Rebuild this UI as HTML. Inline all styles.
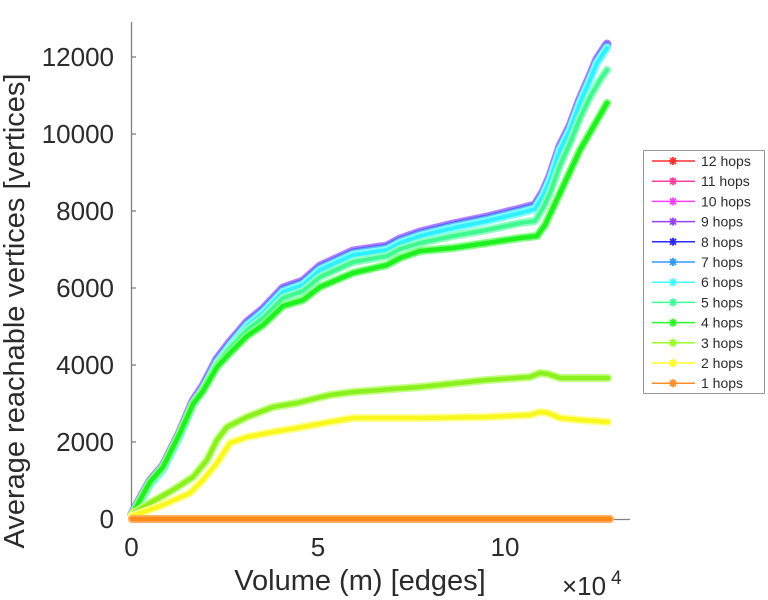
<!DOCTYPE html>
<html>
<head>
<meta charset="utf-8">
<style>
html,body{margin:0;padding:0;background:#fff;}
svg{display:block;}
text{font-family:"Liberation Sans",Arial,sans-serif;fill:#2b2b2b;}
</style>
</head>
<body>
<svg width="768" height="600" viewBox="0 0 768 600" xmlns="http://www.w3.org/2000/svg">
<rect width="768" height="600" fill="#fff"/>

<!-- axes -->
<g stroke="#808080" stroke-width="1.3" fill="none">
  <line x1="131.5" y1="22" x2="131.5" y2="519.5"/>
  <line x1="131.5" y1="519.5" x2="630" y2="519.5"/>
  <line x1="131.5" y1="442" x2="136" y2="442"/>
  <line x1="131.5" y1="365" x2="136" y2="365"/>
  <line x1="131.5" y1="288" x2="136" y2="288"/>
  <line x1="131.5" y1="211" x2="136" y2="211"/>
  <line x1="131.5" y1="134" x2="136" y2="134"/>
  <line x1="131.5" y1="57" x2="136" y2="57"/>
  <line x1="318" y1="519.5" x2="318" y2="515"/>
  <line x1="505" y1="519.5" x2="505" y2="515"/>
</g>

<g font-size="26" text-anchor="end">
  <text x="114" y="528">0</text>
  <text x="114" y="451">2000</text>
  <text x="114" y="374">4000</text>
  <text x="114" y="297">6000</text>
  <text x="114" y="220">8000</text>
  <text x="114" y="143">10000</text>
  <text x="114" y="66">12000</text>
</g>
<g font-size="26" text-anchor="middle">
  <text x="131.5" y="556">0</text>
  <text x="318" y="556">5</text>
  <text x="505" y="556">10</text>
</g>
<text x="562" y="595" font-size="26">×10</text>
<text x="611" y="584" font-size="19">4</text>

<text x="360" y="590" font-size="29" text-anchor="middle">Volume (m) [edges]</text>
<text transform="translate(24,311) rotate(-90)" font-size="29" text-anchor="middle">Average reachable vertices [vertices]</text>

<!-- series: halo + core -->
<g fill="none" stroke-linejoin="round" stroke-linecap="round">
  <!-- 12,11,10 -->
  <polyline stroke="#ff3030" stroke-width="7" points="132,515 140,500 150,482 163,467 180,433 193,402 203,387 217,360 230,343 247,323 263,310 283,289 303,282 320,267 353,252 387,247 400,240 420,233 453,225 487,218 520,210 535,206 543,193 550,177 560,147 570,127 580,100 590,77 597,60 607,45"/>
  <polyline stroke="#ff40a0" stroke-width="7" points="132,515 140,500 150,482 163,467 180,433 193,402 203,387 217,360 230,343 247,323 263,310 283,289 303,282 320,267 353,252 387,247 400,240 420,233 453,225 487,218 520,210 535,206 543,193 550,177 560,147 570,127 580,100 590,77 597,60 607,45"/>
  <polyline stroke="#ff40ff" stroke-width="7" points="132,515 140,500 150,482 163,467 180,433 193,402 203,387 217,360 230,343 247,323 263,310 283,289 303,282 320,267 353,252 387,247 400,240 420,233 453,225 487,218 520,210 535,206 543,193 550,177 560,147 570,127 580,100 590,77 597,60 607,45"/>
  <!-- 9 -->
  <g transform="translate(0,-1)">
  <polyline stroke="#b080ff" stroke-width="9" points="132,515 140,500 150,482 163,467 180,433 193,402 203,387 217,360 230,343 247,323 263,310 283,289 303,282 320,267 353,252 387,247 400,240 420,233 453,225 487,218 520,210 535,206 543,193 550,177 560,147 570,127 580,100 590,77 597,60 607,45"/>
  <polyline stroke="#9040ff" stroke-width="5" points="132,515 140,500 150,482 163,467 180,433 193,402 203,387 217,360 230,343 247,323 263,310 283,289 303,282 320,267 353,252 387,247 400,240 420,233 453,225 487,218 520,210 535,206 543,193 550,177 560,147 570,127 580,100 590,77 597,60 607,45"/>
  </g>
  <!-- 8 -->
  <polyline stroke="#5a5aff" stroke-width="7" points="132,515 140,500 150,482 163,467 180,433 193,402 203,387 217,360 230,343 247,323 263,310 283,289 303,282 320,267 353,252 387,247 400,240 420,233 453,225 487,218 520,210 535,206 543,193 550,177 560,147 570,127 580,100 590,77 597,60 607,45"/>
  <!-- 7 -->
  <g transform="translate(0,1.5)">
  <polyline stroke="#60b0ff" stroke-width="8" points="132,515 140,500 150,482 163,467 180,433 193,402 203,387 217,360 230,343 247,323 263,310 283,289 303,282 320,267 353,252 387,247 400,240 420,233 453,225 487,218 520,210 535,206 543,193 550,177 560,147 570,127 580,100 590,77 597,60 607,45"/>
  </g>
  <!-- 6 -->
  <g transform="translate(0,3)">
  <polyline stroke="#80ffff" stroke-width="8" points="132,515 140,500 150,482 163,467 180,433 193,402 203,387 217,360 230,343 247,323 263,310 283,289 303,282 320,267 353,252 387,247 400,240 420,233 453,225 487,218 520,210 535,206 543,193 550,177 560,147 570,127 580,100 590,77 597,60 607,45"/>
  <polyline stroke="#30f0ff" stroke-width="4" points="132,515 140,500 150,482 163,467 180,433 193,402 203,387 217,360 230,343 247,323 263,310 283,289 303,282 320,267 353,252 387,247 400,240 420,233 453,225 487,218 520,210 535,206 543,193 550,177 560,147 570,127 580,100 590,77 597,60 607,45"/>
  </g>
  <!-- 5 -->
  <polyline stroke="#90ffc0" stroke-width="8" points="132,515 140,500 150,482 163,467 180,433 193,403 203,389 217,364 230,348 247,330 263,318 283,298 303,291 320,277 353,262 387,256 400,249 420,243 453,236 487,230 520,223 535,221 543,208 550,193 560,165 570,143 580,118 590,97 600,80 607,70"/>
  <polyline stroke="#40f890" stroke-width="4" points="132,515 140,500 150,482 163,467 180,433 193,403 203,389 217,364 230,348 247,330 263,318 283,298 303,291 320,277 353,262 387,256 400,249 420,243 453,236 487,230 520,223 535,221 543,208 550,193 560,165 570,143 580,118 590,97 600,80 607,70"/>
  <!-- 4 -->
  <polyline stroke="#80ff80" stroke-width="8" points="132,515 140,500 150,482 163,467 180,433 193,404 203,391 217,367 230,353 247,336 263,325 283,306 303,300 320,287 353,273 387,265 400,258 420,251 453,248 487,243 520,238 537,236 545,225 560,193 580,150 607,103"/>
  <polyline stroke="#20f020" stroke-width="4.5" points="132,515 140,500 150,482 163,467 180,433 193,404 203,391 217,367 230,353 247,336 263,325 283,306 303,300 320,287 353,273 387,265 400,258 420,251 453,248 487,243 520,238 537,236 545,225 560,193 580,150 607,103"/>
  <!-- 3 -->
  <polyline stroke="#c0ff80" stroke-width="8" points="132,514 150,503 173,490 193,477 207,460 217,440 227,427 247,417 273,407 297,403 317,398 330,395 353,392 420,387 487,380 530,377 540,373 548,374 560,378 580,378 608,378"/>
  <polyline stroke="#8cf020" stroke-width="4.5" points="132,514 150,503 173,490 193,477 207,460 217,440 227,427 247,417 273,407 297,403 317,398 330,395 353,392 420,387 487,380 530,377 540,373 548,374 560,378 580,378 608,378"/>
  <!-- 2 -->
  <polyline stroke="#ffff90" stroke-width="8" points="132,516 163,505 190,493 203,480 217,463 230,443 247,437 273,432 297,428 330,422 353,418 420,418 487,417 530,415 540,412 548,413 560,418 580,420 608,422"/>
  <polyline stroke="#f8f820" stroke-width="4.5" points="132,516 163,505 190,493 203,480 217,463 230,443 247,437 273,432 297,428 330,422 353,418 420,418 487,417 530,415 540,412 548,413 560,418 580,420 608,422"/>
  <!-- 1 -->
  <polyline stroke="#ffb060" stroke-width="8" points="132,519 610,519"/>
  <polyline stroke="#ff8a1a" stroke-width="4.5" points="132,519 610,519"/>
</g>

<!-- legend -->
<rect x="643.5" y="150.5" width="121" height="243" fill="#fff" stroke="#999" stroke-width="1"/>
<g font-size="14">
  <g transform="translate(0,161)"><line x1="652" x2="695" y1="0" y2="0" stroke="#ff3030" stroke-width="1.5"/><path d="M669,0H677M673,-4V4M670,-3L676,3M670,3L676,-3" stroke="#ff3030" stroke-width="1.8"/><text x="701" y="5">12 hops</text></g>
  <g transform="translate(0,181.2)"><line x1="652" x2="695" y1="0" y2="0" stroke="#ff40a0" stroke-width="1.5"/><path d="M669,0H677M673,-4V4M670,-3L676,3M670,3L676,-3" stroke="#ff40a0" stroke-width="1.8"/><text x="701" y="5">11 hops</text></g>
  <g transform="translate(0,201.4)"><line x1="652" x2="695" y1="0" y2="0" stroke="#ff40ff" stroke-width="1.5"/><path d="M669,0H677M673,-4V4M670,-3L676,3M670,3L676,-3" stroke="#ff40ff" stroke-width="1.8"/><text x="701" y="5">10 hops</text></g>
  <g transform="translate(0,221.6)"><line x1="652" x2="695" y1="0" y2="0" stroke="#9940ff" stroke-width="1.5"/><path d="M669,0H677M673,-4V4M670,-3L676,3M670,3L676,-3" stroke="#9940ff" stroke-width="1.8"/><text x="701" y="5">9 hops</text></g>
  <g transform="translate(0,241.8)"><line x1="652" x2="695" y1="0" y2="0" stroke="#2a2aff" stroke-width="1.5"/><path d="M669,0H677M673,-4V4M670,-3L676,3M670,3L676,-3" stroke="#2a2aff" stroke-width="1.8"/><text x="701" y="5">8 hops</text></g>
  <g transform="translate(0,262)"><line x1="652" x2="695" y1="0" y2="0" stroke="#3399ff" stroke-width="1.5"/><path d="M669,0H677M673,-4V4M670,-3L676,3M670,3L676,-3" stroke="#3399ff" stroke-width="1.8"/><text x="701" y="5">7 hops</text></g>
  <g transform="translate(0,282.2)"><line x1="652" x2="695" y1="0" y2="0" stroke="#40ffff" stroke-width="1.5"/><path d="M669,0H677M673,-4V4M670,-3L676,3M670,3L676,-3" stroke="#40ffff" stroke-width="1.8"/><text x="701" y="5">6 hops</text></g>
  <g transform="translate(0,302.4)"><line x1="652" x2="695" y1="0" y2="0" stroke="#40ff99" stroke-width="1.5"/><path d="M669,0H677M673,-4V4M670,-3L676,3M670,3L676,-3" stroke="#40ff99" stroke-width="1.8"/><text x="701" y="5">5 hops</text></g>
  <g transform="translate(0,322.6)"><line x1="652" x2="695" y1="0" y2="0" stroke="#26ff26" stroke-width="1.5"/><path d="M669,0H677M673,-4V4M670,-3L676,3M670,3L676,-3" stroke="#26ff26" stroke-width="1.8"/><text x="701" y="5">4 hops</text></g>
  <g transform="translate(0,342.8)"><line x1="652" x2="695" y1="0" y2="0" stroke="#99ff26" stroke-width="1.5"/><path d="M669,0H677M673,-4V4M670,-3L676,3M670,3L676,-3" stroke="#99ff26" stroke-width="1.8"/><text x="701" y="5">3 hops</text></g>
  <g transform="translate(0,363)"><line x1="652" x2="695" y1="0" y2="0" stroke="#ffff26" stroke-width="1.5"/><path d="M669,0H677M673,-4V4M670,-3L676,3M670,3L676,-3" stroke="#ffff26" stroke-width="1.8"/><text x="701" y="5">2 hops</text></g>
  <g transform="translate(0,383.2)"><line x1="652" x2="695" y1="0" y2="0" stroke="#ff8c26" stroke-width="1.5"/><path d="M669,0H677M673,-4V4M670,-3L676,3M670,3L676,-3" stroke="#ff8c26" stroke-width="1.8"/><text x="701" y="5">1 hops</text></g>
</g>
</svg>
</body>
</html>
